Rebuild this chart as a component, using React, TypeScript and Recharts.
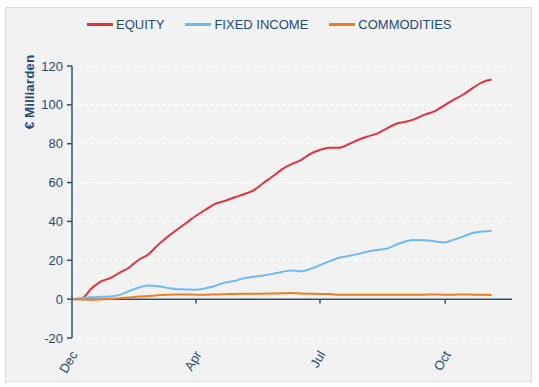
import {
  LineChart,
  Line,
  XAxis,
  YAxis,
  CartesianGrid,
  Legend,
  ReferenceLine,
} from 'recharts';

// days since 31 Dec, one point per week
const DAYS = Array.from({ length: 45 }, (_, i) => i * 7);

const EQUITY = [
  0, 0.3, 5.3, 9, 10.8, 13.6, 16.3, 20.3, 23, 27.8, 32, 35.7, 39.3, 42.9, 46,
  49, 50.5, 52.3, 54, 55.8, 59.5, 63, 66.8, 69.5, 71.6, 74.8, 76.8, 77.9, 77.9,
  79.7, 81.9, 83.7, 85.2, 87.8, 90.3, 91.3, 92.8, 95, 96.6, 99.6, 102.6, 105.2,
  108.6, 111.6, 113,
];

const FIXED_INCOME = [
  0, 0.5, 1.0, 1.2, 1.4, 2.2, 4.2, 6.0, 7.0, 6.6, 5.8, 5.1, 5.0, 4.8, 5.6, 6.8,
  8.5, 9.3, 10.8, 11.5, 12.2, 13.0, 14.0, 14.8, 14.3, 15.5, 17.5, 19.5, 21.3,
  22.2, 23.3, 24.5, 25.3, 26.0, 28.0, 29.8, 30.5, 30.3, 29.8, 29.2, 30.5, 32.2,
  34.0, 34.8, 35.1,
];

const COMMODITIES = [
  0, -0.2, -0.3, -0.2, 0.1, 0.5, 0.9, 1.3, 1.6, 2.0, 2.3, 2.4, 2.4, 2.3, 2.3,
  2.4, 2.5, 2.7, 2.8, 2.8, 2.8, 2.9, 3.0, 3.1, 2.9, 2.8, 2.7, 2.6, 2.3, 2.2,
  2.2, 2.3, 2.2, 2.3, 2.2, 2.2, 2.3, 2.3, 2.4, 2.3, 2.3, 2.4, 2.3, 2.2, 2.1,
];

const X_TICKS = [0, 91, 182, 274];
const X_LABELS = ['Dec', 'Apr', 'Jul', 'Oct'];
const Y_TICKS = [-20, 0, 20, 40, 60, 80, 100, 120];

const SERIES = [
  { key: 'equity', name: 'EQUITY', color: '#e3303b' },
  { key: 'fixedIncome', name: 'FIXED INCOME', color: '#6cb9f8' },
  { key: 'commodities', name: 'COMMODITIES', color: '#f07d1c' },
];

const AXIS_COLOR = '#2a5078';
const TEXT_COLOR = '#1f4a75';
const FONT = '"Liberation Sans", Arial, sans-serif';

const data = DAYS.map((day, i) => ({
  day,
  equity: EQUITY[i],
  fixedIncome: FIXED_INCOME[i],
  commodities: COMMODITIES[i],
}));

function XTick({ x, y, payload }: { x?: number; y?: number; payload?: { value: number } }) {
  const idx = X_TICKS.indexOf(payload?.value ?? -1);
  return (
    <g transform={`translate(${(x ?? 0) + 2},${(y ?? 0) + 6})`}>
      <text
        textAnchor="end"
        transform="rotate(-60)"
        dy="0.35em"
        fill={TEXT_COLOR}
        fontSize={13}
        fontFamily={FONT}
      >
        {X_LABELS[idx]}
      </text>
    </g>
  );
}

function LegendContent() {
  return (
    <div style={{ display: 'flex', alignItems: 'center', fontFamily: FONT, fontSize: 13 }}>
      {SERIES.map((s) => (
        <div key={s.key} style={{ display: 'flex', alignItems: 'center', marginRight: 21 }}>
          <span style={{ display: 'inline-block', width: 26, height: 3, background: s.color, marginRight: 3 }} />
          <span style={{ color: TEXT_COLOR }}>{s.name}</span>
        </div>
      ))}
    </div>
  );
}

export default function App() {
  return (
    <div style={{ position: 'absolute', left: 0, top: 0, width: 539, height: 387, background: '#fff' }}>
      <div
        style={{
          position: 'absolute',
          left: 5,
          top: 7,
          width: 525,
          height: 373,
          background: '#f2f2f2',
          border: '1px solid #dcdcdc',
        }}
      />
      <div style={{ position: 'absolute', left: 0, top: 0 }}>
        <LineChart width={539} height={387} data={data} margin={{ top: 51, right: 27, left: 0, bottom: 0 }}>
          <CartesianGrid vertical={false} stroke="#ffffff" strokeDasharray="4 2" />
          <XAxis
            dataKey="day"
            type="number"
            domain={[0, 323]}
            ticks={X_TICKS}
            axisLine={false}
            tickLine={false}
            height={49}
            tick={<XTick />}
            interval={0}
          />
          <YAxis
            domain={[-20, 120]}
            ticks={Y_TICKS}
            width={72}
            axisLine={{ stroke: AXIS_COLOR, strokeWidth: 1.5 }}
            tickLine={{ stroke: AXIS_COLOR, strokeWidth: 1.5 }}
            tickSize={5}
            tickMargin={4}
            tick={{ fill: TEXT_COLOR, fontSize: 13, fontFamily: FONT }}
            label={{
              content: () => (
                <text
                  x={29}
                  y={92}
                  transform="rotate(-90, 29, 92)"
                  textAnchor="middle"
                  dominantBaseline="central"
                  fill={TEXT_COLOR}
                  fontSize={13.5}
                  fontWeight="bold"
                  fontFamily={FONT}
                >
                  € Milliarden
                </text>
              ),
            }}
          />
          <ReferenceLine y={0} stroke={AXIS_COLOR} strokeWidth={1.5} />
          {X_TICKS.slice(1).map((t) => (
            <ReferenceLine
              key={t}
              segment={[
                { x: t, y: 0 },
                { x: t, y: -2.3 },
              ]}
              stroke={AXIS_COLOR}
              strokeWidth={1.5}
            />
          ))}
          <Legend
            verticalAlign="top"
            content={<LegendContent />}
            wrapperStyle={{ top: 17, left: 87, width: 440 }}
          />
          {SERIES.map((s) => (
            <Line
              key={s.key}
              type="monotone"
              dataKey={s.key}
              name={s.name}
              stroke={s.color}
              strokeWidth={2}
              dot={false}
              isAnimationActive={false}
            />
          ))}
        </LineChart>
      </div>
    </div>
  );
}
